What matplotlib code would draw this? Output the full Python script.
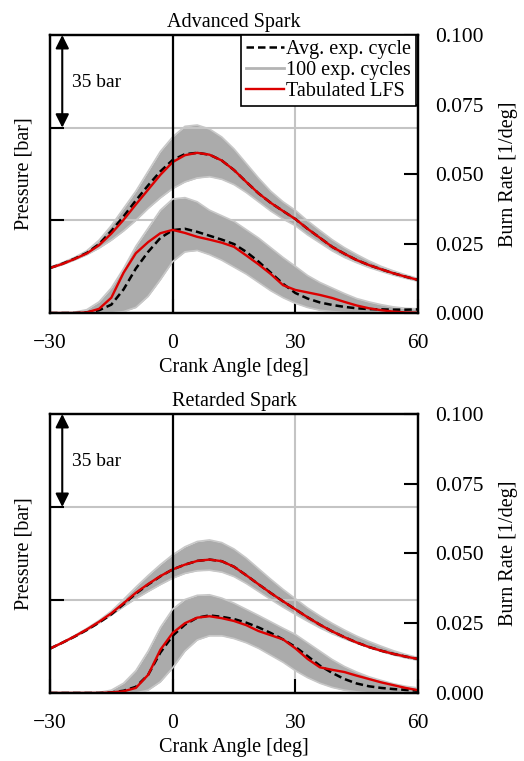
"""Pressure and burn-rate traces: advanced vs retarded spark."""

import matplotlib

matplotlib.use("Agg")
import matplotlib.pyplot as plt

plt.rcParams["font.family"] = ["Liberation Serif", "DejaVu Serif"]

# crank angle grid the traces were read on [deg]
CA = [-30, -27, -24, -21, -18, -15, -12, -9, -6, -3, 0, 3, 6, 9, 12, 15,
      18, 21, 24, 27, 30, 33, 36, 39, 42, 45, 48, 51, 54, 57, 60]

# ---- Advanced spark ---------------------------------------------------------
adv_p_lfs = [17.0, 18.5, 20.4, 22.5, 25.6, 30.0, 35.2, 41.0, 46.6, 52.2, 57.0,
             59.6, 60.5, 59.8, 57.6, 54.0, 49.5, 45.2, 41.6, 38.5, 35.5, 31.8,
             28.4, 25.0, 22.4, 20.0, 18.1, 16.5, 15.0, 13.7, 12.5]
adv_p_avg = [17.0, 18.6, 20.5, 22.7, 26.0, 31.0, 36.5, 42.5, 48.2, 53.5, 57.8,
             60.0, 60.5, 59.8, 57.6, 54.0, 49.5, 45.2, 41.6, 38.5, 35.5, 31.8,
             28.4, 25.0, 22.4, 20.0, 18.1, 16.5, 15.0, 13.7, 12.5]
adv_p_hi = [17.3, 19.0, 21.0, 23.5, 27.5, 33.0, 39.5, 46.0, 53.5, 61.0, 66.5,
            70.5, 71.0, 69.5, 66.5, 62.0, 56.5, 51.0, 46.0, 42.0, 38.8, 34.8,
            31.2, 27.7, 24.7, 22.1, 19.7, 17.6, 15.9, 14.4, 13.0]
adv_p_lo = [16.8, 18.2, 20.0, 22.0, 24.5, 27.5, 31.0, 35.0, 39.5, 43.5, 47.0,
            49.5, 51.0, 51.5, 50.5, 48.5, 45.5, 42.0, 38.5, 35.5, 33.0, 29.5,
            26.5, 23.5, 21.0, 19.0, 17.2, 15.7, 14.3, 13.1, 12.0]

adv_b_lfs = [0.0, 0.0, 0.0, 0.0002, 0.0015, 0.0055, 0.0145, 0.0215, 0.0255,
             0.0287, 0.0299, 0.0288, 0.0274, 0.0264, 0.0253, 0.0238, 0.0207,
             0.0175, 0.0140, 0.0100, 0.0083, 0.0074, 0.0065, 0.0054, 0.0040,
             0.0027, 0.0017, 0.0010, 0.0005, 0.0002, 0.0001]
adv_b_avg = [0.0, 0.0, 0.0, 0.0002, 0.0010, 0.0030, 0.0085, 0.0160, 0.0220,
             0.0270, 0.0298, 0.0303, 0.0292, 0.0278, 0.0264, 0.0248, 0.0220,
             0.0185, 0.0145, 0.0105, 0.0072, 0.0052, 0.0038, 0.0029, 0.0022,
             0.0017, 0.0014, 0.0013, 0.0012, 0.0012, 0.0013]
adv_b_hi = [0.0, 0.0, 0.0003, 0.0012, 0.0040, 0.0090, 0.0160, 0.0240, 0.0305,
            0.0370, 0.0410, 0.0415, 0.0400, 0.0370, 0.0350, 0.0330, 0.0300,
            0.0270, 0.0235, 0.0200, 0.0168, 0.0135, 0.0110, 0.0090, 0.0070,
            0.0052, 0.0040, 0.0030, 0.0022, 0.0017, 0.0015]
adv_b_lo = [0.0, 0.0, 0.0, 0.0, 0.0, 0.0, 0.0005, 0.0020, 0.0060, 0.0120,
            0.0185, 0.0220, 0.0225, 0.0210, 0.0190, 0.0165, 0.0140, 0.0110,
            0.0080, 0.0055, 0.0035, 0.0020, 0.0010, 0.0005, 0.0002, 0.0, 0.0,
            0.0, 0.0, 0.0, 0.0]

# ---- Retarded spark ---------------------------------------------------------
ret_p_lfs = [16.7, 18.9, 21.3, 23.9, 26.8, 30.0, 33.8, 37.7, 41.0, 44.0, 46.5,
             48.3, 49.7, 50.2, 49.6, 47.5, 44.3, 40.9, 37.6, 34.5, 31.5, 28.5,
             25.7, 23.2, 21.0, 19.0, 17.3, 15.9, 14.7, 13.7, 12.8]
ret_p_avg = [16.7, 18.9, 21.2, 23.7, 26.5, 29.6, 33.4, 37.4, 40.8, 43.9, 46.5,
             48.3, 49.7, 50.2, 49.6, 47.5, 44.3, 40.9, 37.6, 34.5, 31.5, 28.5,
             25.7, 23.2, 21.0, 19.0, 17.3, 15.9, 14.7, 13.7, 12.8]
ret_p_hi = [16.9, 19.1, 21.6, 24.3, 27.3, 30.8, 35.2, 39.8, 44.2, 48.3, 52.0,
            55.0, 57.0, 57.6, 56.6, 54.2, 50.8, 46.8, 42.8, 39.0, 35.5, 32.0,
            29.0, 26.2, 23.7, 21.4, 19.4, 17.6, 15.9, 14.5, 13.3]
ret_p_lo = [16.5, 18.7, 21.0, 23.5, 26.3, 29.3, 32.5, 35.5, 38.2, 40.8, 43.2,
            45.0, 46.0, 46.2, 45.5, 43.8, 41.2, 38.2, 35.2, 32.3, 29.6, 27.0,
            24.5, 22.3, 20.4, 18.7, 17.1, 15.6, 14.3, 13.2, 12.3]

ret_b_lfs = [0.0, 0.0, 0.0, 0.0, 0.0, 0.0002, 0.0006, 0.0018, 0.0065, 0.0155,
             0.0215, 0.0250, 0.0270, 0.0275, 0.0268, 0.0258, 0.0243, 0.0222,
             0.0207, 0.0192, 0.0160, 0.0122, 0.0092, 0.0083, 0.0075, 0.0062,
             0.0050, 0.0038, 0.0028, 0.0018, 0.0010]
ret_b_avg = [0.0, 0.0, 0.0, 0.0, 0.0, 0.0002, 0.0008, 0.0022, 0.0065, 0.0145,
             0.0205, 0.0245, 0.0270, 0.0278, 0.0273, 0.0265, 0.0252, 0.0235,
             0.0215, 0.0192, 0.0165, 0.0132, 0.0098, 0.0072, 0.0050, 0.0034,
             0.0024, 0.0018, 0.0014, 0.0011, 0.0008]
ret_b_hi = [0.0, 0.0, 0.0, 0.0, 0.0002, 0.0010, 0.0035, 0.0080, 0.0150,
            0.0235, 0.0300, 0.0335, 0.0350, 0.0352, 0.0340, 0.0322, 0.0300,
            0.0278, 0.0255, 0.0232, 0.0210, 0.0180, 0.0150, 0.0120, 0.0095,
            0.0075, 0.0058, 0.0045, 0.0033, 0.0024, 0.0018]
ret_b_lo = [0.0, 0.0, 0.0, 0.0, 0.0, 0.0, 0.0, 0.0, 0.0010, 0.0040, 0.0090,
            0.0150, 0.0190, 0.0205, 0.0205, 0.0195, 0.0180, 0.0160, 0.0135,
            0.0110, 0.0080, 0.0055, 0.0035, 0.0020, 0.0010, 0.0004, 0.0, 0.0,
            0.0, 0.0, 0.0]

X_TICKS = [-30, 0, 30, 60]
P_TICKS = [35, 70]
B_TICKS = [0.0, 0.025, 0.05, 0.075, 0.1]

RED = "#dc0000"
BAND = "#ababab"
BAND_EDGE = "#c8c8c8"
GRID = "#c4c4c4"


def draw_panel(ax, title, p_avg, p_lfs, p_lo, p_hi, b_avg, b_lfs, b_lo, b_hi,
               legend=False):
    ax.set_xlim(-30, 60)
    ax.set_ylim(0, 105)
    ax.set_xticks(X_TICKS)
    ax.set_yticks(P_TICKS)
    ax.set_yticklabels([])
    ax.tick_params(direction="in", length=10, width=1.5, labelsize=15.5, pad=15)
    ax.grid(True, color=GRID, lw=1.5)
    ax.set_axisbelow("line")
    ax.get_xgridlines()[1].set_visible(False)
    for s in ax.spines.values():
        s.set_linewidth(1.6)

    # pressure traces
    ax.fill_between(CA, p_lo, p_hi, color=BAND, lw=0)
    ax.plot(CA, p_hi, color=BAND_EDGE, lw=1.2)
    ax.plot(CA, p_lo, color=BAND_EDGE, lw=1.2)
    ax.plot(CA, p_avg, color="k", lw=1.8, ls=(0, (3, 1.6)))
    ax.plot(CA, p_lfs, color=RED, lw=1.7)

    ax.annotate("", xy=(-27, 105), xytext=(-27, 70),
                arrowprops=dict(arrowstyle="<|-|>", color="k", lw=1.5,
                                mutation_scale=20, shrinkA=0, shrinkB=0))
    ax.text(-24.7, 87, "35 bar", fontsize=14, va="center", ha="left")

    ax.set_xlabel("Crank Angle [deg]", fontsize=14.5, labelpad=4)
    ax.set_ylabel("Pressure [bar]", fontsize=14.5)
    ax.yaxis.set_label_coords(-0.046, 0.5)
    ax.set_title(title, fontsize=14.5, pad=6)

    # burn rate traces
    ax2 = ax.twinx()
    ax2.set_ylim(0, 0.1)
    ax2.set_yticks(B_TICKS)
    ax2.yaxis.set_major_formatter("{x:.3f}")
    ax2.tick_params(direction="in", length=10, width=1.5, labelsize=15.5, pad=12)
    for s in ax2.spines.values():
        s.set_linewidth(1.6)
    ax2.axvline(0, color="k", lw=1.6, zorder=1.8)
    ax2.fill_between(CA, b_lo, b_hi, color=BAND, lw=0)
    ax2.plot(CA, b_hi, color=BAND_EDGE, lw=1.2)
    ax2.plot(CA, b_lo, color=BAND_EDGE, lw=1.2)
    h_avg, = ax2.plot(CA, b_avg, color="k", lw=1.8, ls=(0, (3, 1.6)))
    h_lfs, = ax2.plot(CA, b_lfs, color=RED, lw=1.7)
    ax2.set_ylabel("Burn Rate [1/deg]", fontsize=14.5)
    ax2.yaxis.set_label_coords(1.22, 0.5)

    if legend:
        h_band = plt.Line2D([], [], color="#b4b4b4", lw=2)
        leg = ax2.legend([h_avg, h_band, h_lfs],
                         ["Avg. exp. cycle", "100 exp. cycles", "Tabulated LFS"],
                         loc="upper right", bbox_to_anchor=(0.995, 1.0),
                         borderaxespad=0, fontsize=14.5, handlelength=1.9,
                         handletextpad=0.1, labelspacing=0.1, borderpad=0.25,
                         fancybox=False, framealpha=1, edgecolor="k")
        leg.get_frame().set_linewidth(1.2)


fig = plt.figure(figsize=(5.24, 7.61), dpi=100)
ax_top = fig.add_axes([0.0954, 0.5887, 0.7023, 0.3653])
ax_bot = fig.add_axes([0.0954, 0.0894, 0.7023, 0.3666])

draw_panel(ax_top, "Advanced Spark", adv_p_avg, adv_p_lfs, adv_p_lo, adv_p_hi,
           adv_b_avg, adv_b_lfs, adv_b_lo, adv_b_hi, legend=True)
draw_panel(ax_bot, "Retarded Spark", ret_p_avg, ret_p_lfs, ret_p_lo, ret_p_hi,
           ret_b_avg, ret_b_lfs, ret_b_lo, ret_b_hi)

fig.savefig("out.png", dpi=100)
